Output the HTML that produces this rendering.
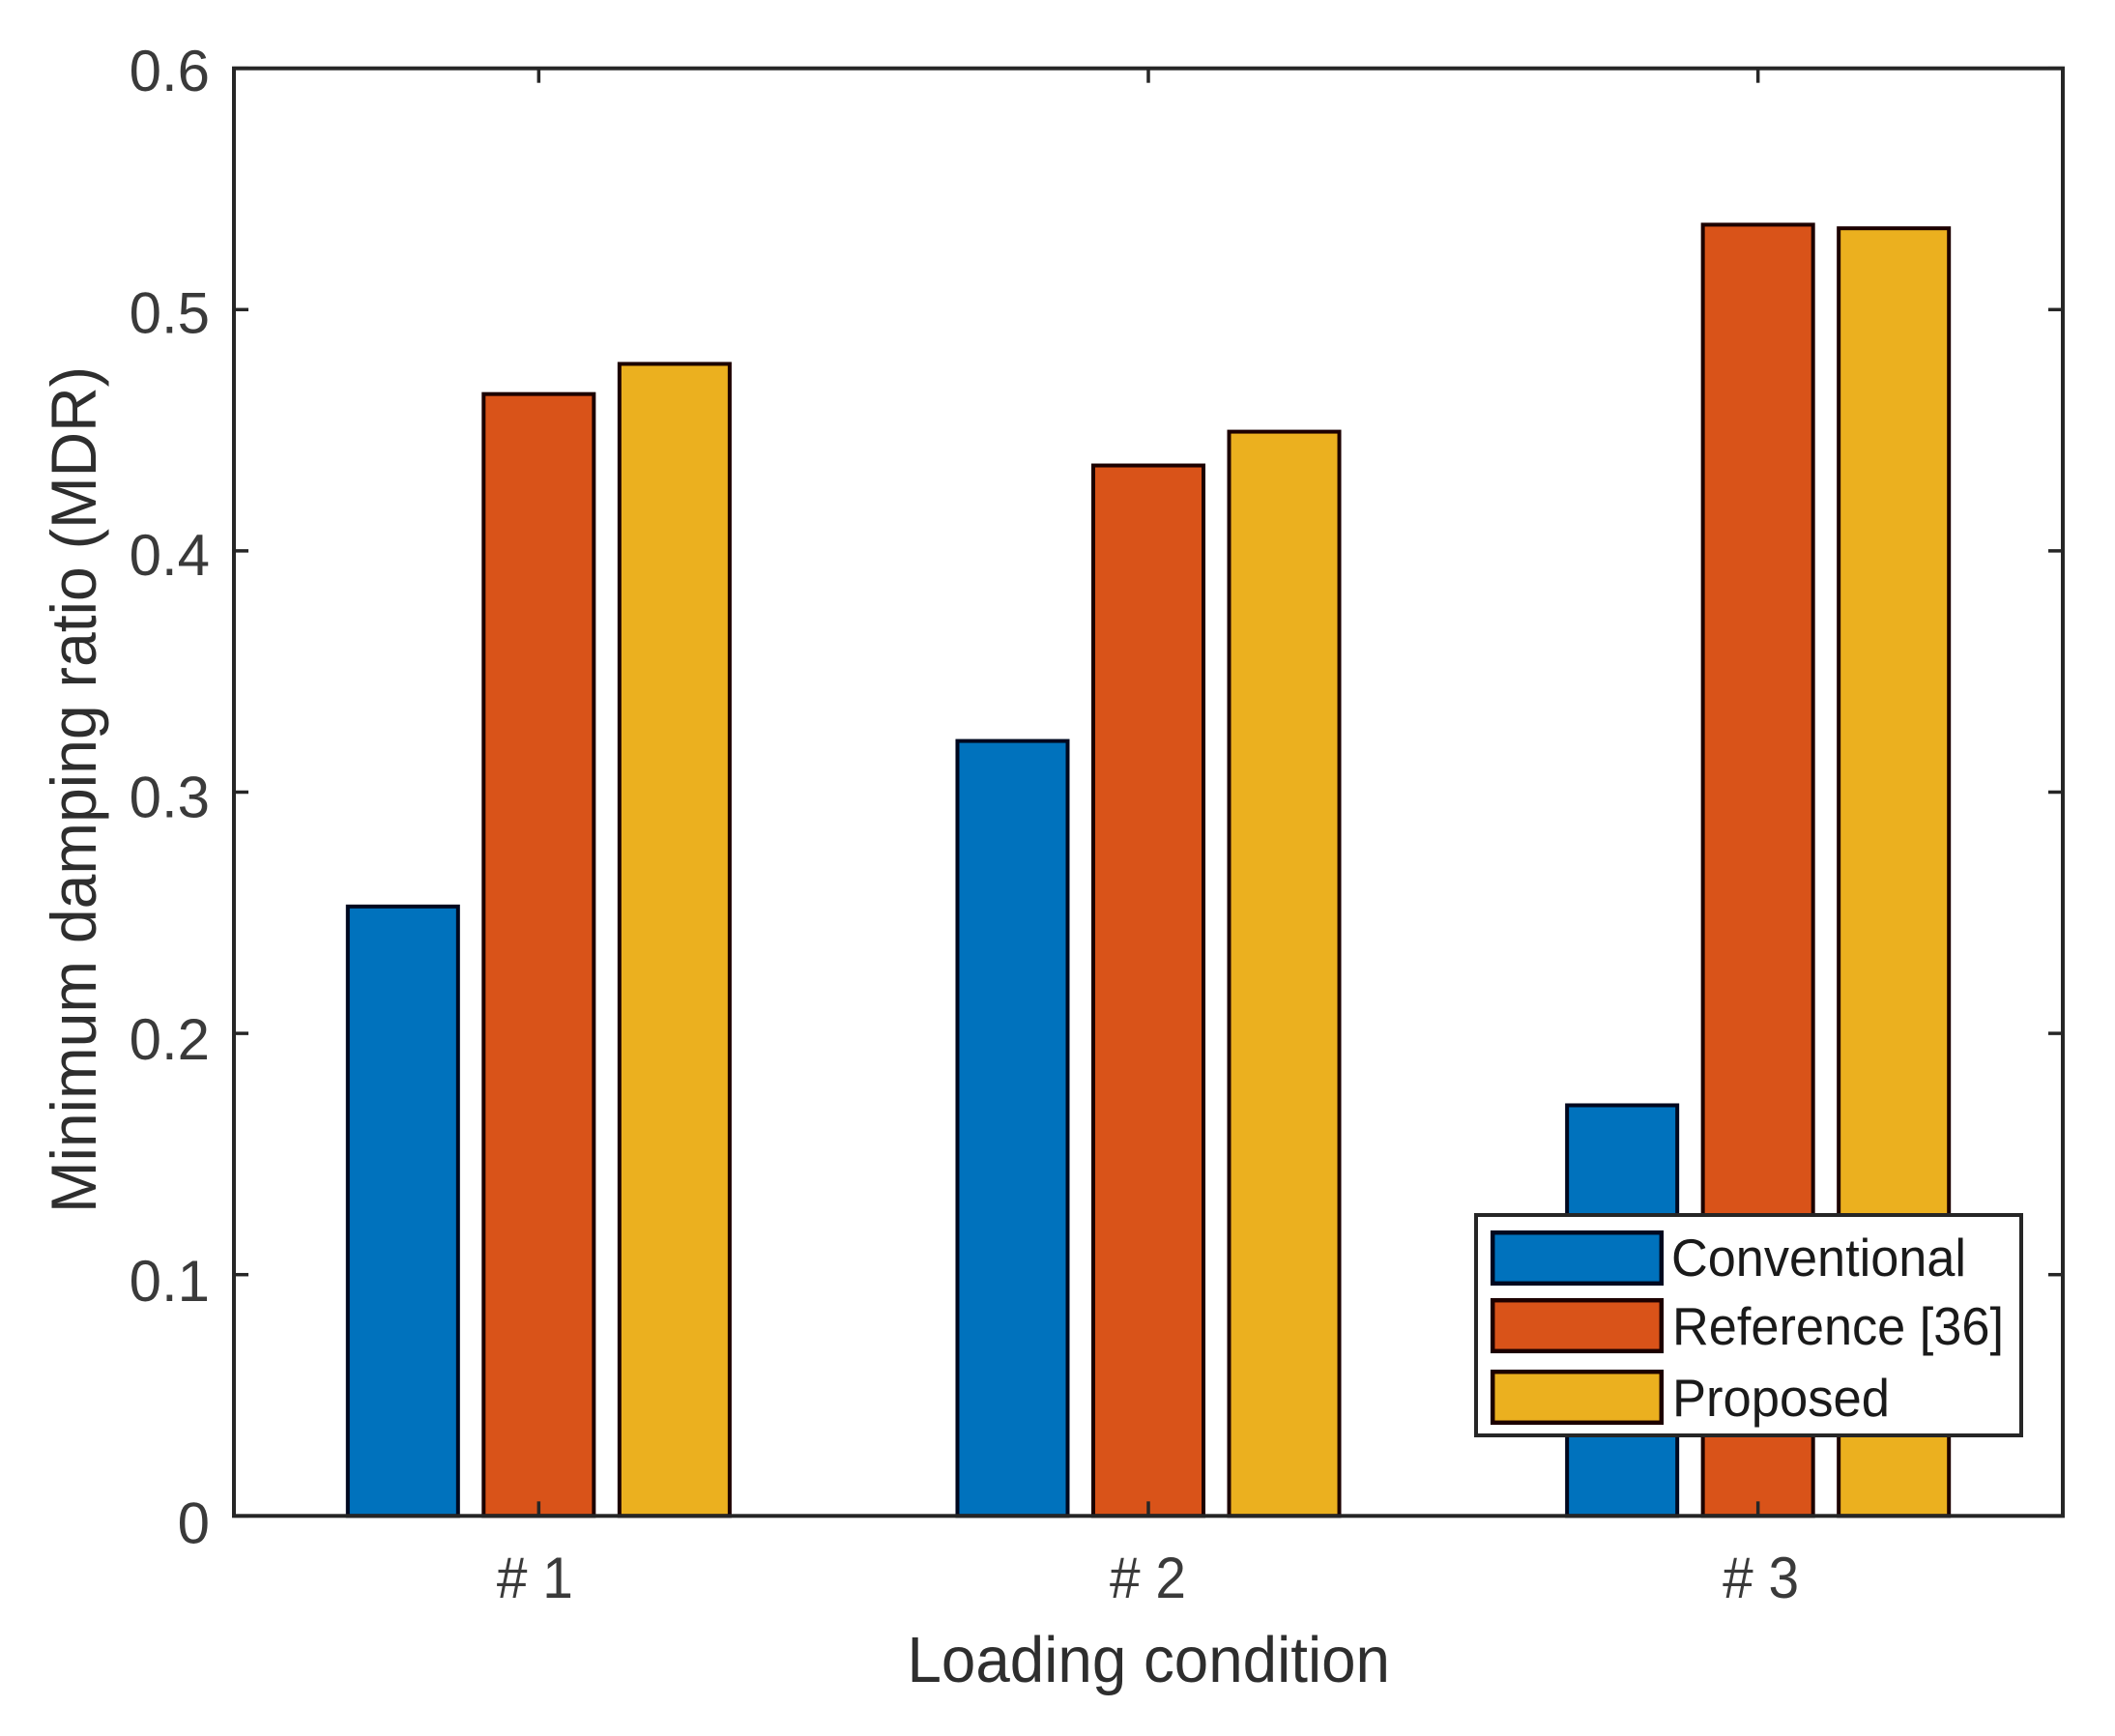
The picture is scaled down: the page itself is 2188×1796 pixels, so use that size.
<!DOCTYPE html>
<html lang="en">
<head>
<meta charset="utf-8">
<title>Minimum damping ratio by loading condition</title>
<style>
  html, body { margin: 0; padding: 0; background: #ffffff; }
  svg { display: block; font-family: "Liberation Sans", sans-serif; }
</style>
</head>
<body>
<svg id="chart" xmlns="http://www.w3.org/2000/svg" width="2188" height="1796" viewBox="0 0 2188 1796">
  <rect x="0" y="0" width="2188" height="1796" fill="#ffffff"/>
  <g id="bars"></g>
  <rect x="242" y="70.7" width="1892" height="1497.6" fill="none" stroke="#262626" stroke-width="4"/>
  <g id="ticks"></g>
  <g id="labels"></g>
  <text x="938.5" y="1740" font-size="67" fill="#2e2e2e" textLength="499.5" lengthAdjust="spacingAndGlyphs">Loading condition</text>
  <text transform="translate(99,1255) rotate(-90)" x="0" y="0" font-size="66" fill="#2e2e2e" textLength="876" lengthAdjust="spacingAndGlyphs">Minimum damping ratio (MDR)</text>
  <g>
    <rect x="1527" y="1257" width="564" height="228" fill="#ffffff" stroke="#262626" stroke-width="4"/>
    <g>
      <rect x="1544.2" y="1275.2" width="174.6" height="52.6" fill="#0072BD" stroke="#00081f" stroke-width="4.5"/>
      <text x="1729" y="1320" font-size="55" fill="#1a1a1a" textLength="305" lengthAdjust="spacingAndGlyphs">Conventional</text>
    </g>
    <g>
      <rect x="1544.2" y="1345.2" width="174.6" height="52.6" fill="#D95319" stroke="#1c0000" stroke-width="4.5"/>
      <text x="1730" y="1391" font-size="55" fill="#1a1a1a" textLength="343" lengthAdjust="spacingAndGlyphs">Reference [36]</text>
    </g>
    <g>
      <rect x="1544.2" y="1419.2" width="174.6" height="52.6" fill="#EBB01F" stroke="#1c0000" stroke-width="4.5"/>
      <text x="1730" y="1465" font-size="55" fill="#1a1a1a" textLength="225" lengthAdjust="spacingAndGlyphs">Proposed</text>
    </g>
  </g>
</svg>
<script>
const categories = ['# 1', '# 2', '# 3'];
const conventional = [0.2526, 0.3212, 0.1702];
const reference36 = [0.465, 0.4354, 0.5352];
const proposed = [0.4775, 0.4494, 0.5337];
const yTicks = [0, 0.1, 0.2, 0.3, 0.4, 0.5, 0.6];
const yTickLabels = ['0', '0.1', '0.2', '0.3', '0.4', '0.5', '0.6'];

const SVG_NS = 'http://www.w3.org/2000/svg';
const plot = { left: 242, right: 2134, top: 70.7, bottom: 1568.3 };
const xDomain = [0.5, 3.5];
const yDomain = [0, 0.6];
const groupOffset = 0.2228;
const barWidth = 0.1808;
const tickLength = 15;

function xScale(v) {
  return plot.left + (v - xDomain[0]) / (xDomain[1] - xDomain[0]) * (plot.right - plot.left);
}
function yScale(v) {
  return plot.bottom - (v - yDomain[0]) / (yDomain[1] - yDomain[0]) * (plot.bottom - plot.top);
}
function make(tag, parent) {
  const el = document.createElementNS(SVG_NS, tag);
  parent.appendChild(el);
  return el;
}

const seriesList = [
  { key: 'conventional', values: conventional, fill: '#0072BD', edge: '#00081f', pos: -1 },
  { key: 'reference', values: reference36, fill: '#D95319', edge: '#1c0000', pos: 0 },
  { key: 'proposed', values: proposed, fill: '#EBB01F', edge: '#1c0000', pos: 1 }
];

const barsGroup = document.getElementById('bars');
seriesList.forEach(function (s) {
  s.values.forEach(function (v, i) {
    const bar = make('rect', barsGroup);
    const cx = xScale(i + 1 + s.pos * groupOffset);
    const w = xScale(barWidth) - xScale(0);
    bar.setAttribute('x', cx - w / 2);
    bar.setAttribute('y', yScale(v));
    bar.setAttribute('width', w);
    bar.setAttribute('height', yScale(0) - yScale(v));
    bar.setAttribute('fill', s.fill);
    bar.setAttribute('stroke', s.edge);
    bar.setAttribute('stroke-width', 4);
    
    
  });
});

const ticksGroup = document.getElementById('ticks');
const labelsGroup = document.getElementById('labels');

yTicks.forEach(function (v, i) {
  const y = yScale(v);
  const leftTick = make('line', ticksGroup);
  leftTick.setAttribute('x1', plot.left);
  leftTick.setAttribute('x2', plot.left + tickLength);
  leftTick.setAttribute('y1', y);
  leftTick.setAttribute('y2', y);
  leftTick.setAttribute('stroke', '#262626');
  leftTick.setAttribute('stroke-width', 3.5);
  
  

  const rightTick = make('line', ticksGroup);
  rightTick.setAttribute('x1', plot.right);
  rightTick.setAttribute('x2', plot.right - tickLength);
  rightTick.setAttribute('y1', y);
  rightTick.setAttribute('y2', y);
  rightTick.setAttribute('stroke', '#262626');
  rightTick.setAttribute('stroke-width', 3.5);
  
  

  const label = make('text', labelsGroup);
  label.setAttribute('x', 217);
  label.setAttribute('y', y + 23.5 + (yDomain[1] - v) * 8);
  label.setAttribute('text-anchor', 'end');
  label.setAttribute('font-size', 60);
  label.setAttribute('fill', '#3a3a3a');
  
  
  label.textContent = yTickLabels[i];
});

categories.forEach(function (name, i) {
  const x = xScale(i + 1);
  const bottomTick = make('line', ticksGroup);
  bottomTick.setAttribute('x1', x);
  bottomTick.setAttribute('x2', x);
  bottomTick.setAttribute('y1', plot.bottom);
  bottomTick.setAttribute('y2', plot.bottom - tickLength);
  bottomTick.setAttribute('stroke', '#262626');
  bottomTick.setAttribute('stroke-width', 3.5);
  
  

  const topTick = make('line', ticksGroup);
  topTick.setAttribute('x1', x);
  topTick.setAttribute('x2', x);
  topTick.setAttribute('y1', plot.top);
  topTick.setAttribute('y2', plot.top + tickLength);
  topTick.setAttribute('stroke', '#262626');
  topTick.setAttribute('stroke-width', 3.5);
  
  

  const label = make('text', labelsGroup);
  label.setAttribute('x', x - 0.5 + (i - 1) * 3.5);
  label.setAttribute('y', 1653);
  label.setAttribute('text-anchor', 'middle');
  label.setAttribute('font-size', 60);
  label.setAttribute('fill', '#3a3a3a');
  label.setAttribute('textLength', 79);
  label.setAttribute('lengthAdjust', 'spacingAndGlyphs');
  
  
  label.textContent = name;
});
</script>
</body>
</html>
